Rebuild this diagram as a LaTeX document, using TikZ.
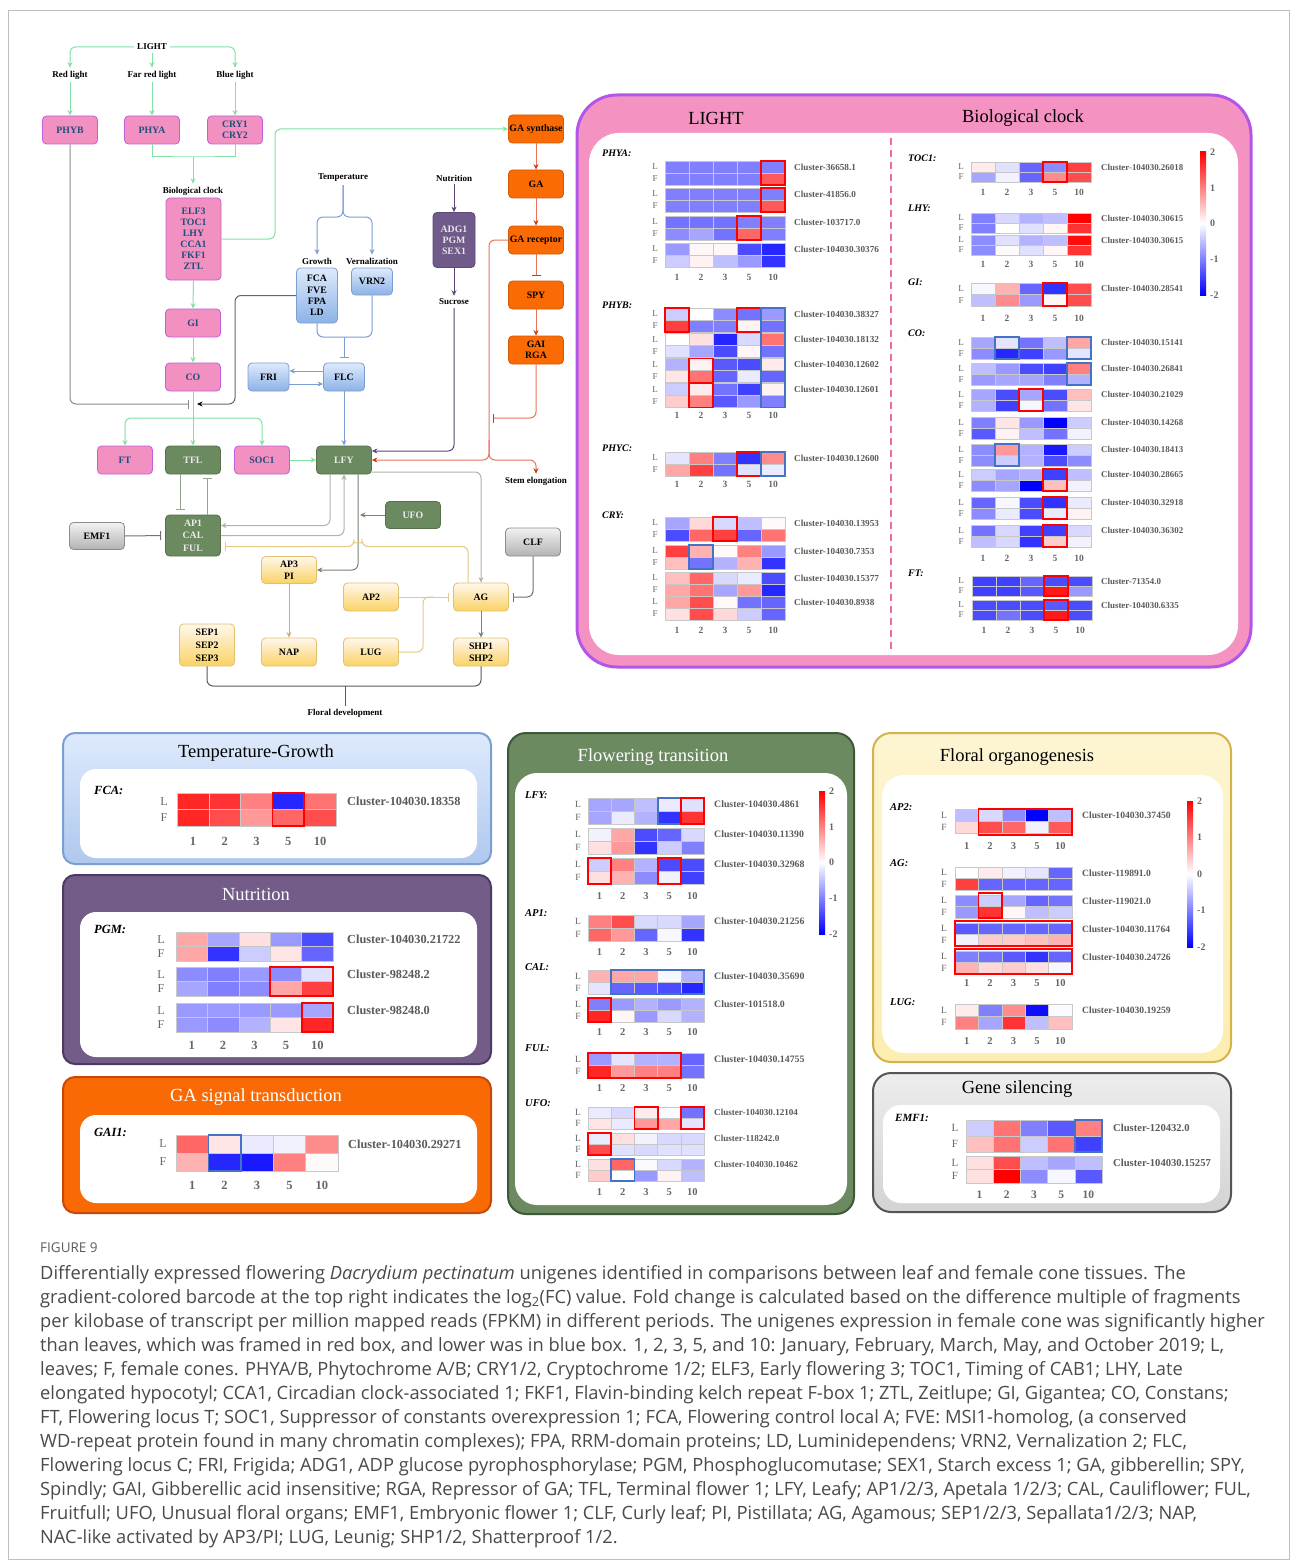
\documentclass[tikz,border=0pt]{standalone}
\usepackage{fontspec}
\setmainfont{Liberation Serif}
\newfontfamily\capf{Open Sans}
\usetikzlibrary{arrows.meta,calc}
\definecolor{pinkf}{HTML}{F291C1}
\definecolor{pinkd}{HTML}{C15FDC}
\definecolor{pinkt}{HTML}{1F4E7A}
\definecolor{dgreen}{HTML}{6B8A5F}
\definecolor{dgreend}{HTML}{56714B}
\definecolor{mint}{HTML}{7FE3A2}
\definecolor{bluel}{HTML}{7C9FD3}
\definecolor{purp}{HTML}{6F5A89}
\definecolor{purpl}{HTML}{5B4878}
\definecolor{orng}{HTML}{FA6A05}
\definecolor{orngl}{HTML}{E9735A}
\definecolor{orngt}{HTML}{C93A10}
\definecolor{yell}{HTML}{E2C16E}
\definecolor{sage}{HTML}{93A58A}
\definecolor{sagel}{HTML}{A9B8A2}
\definecolor{lpink}{HTML}{F493C1}
\definecolor{lviolet}{HTML}{B455EA}
\definecolor{dpink}{HTML}{F06AA8}
\definecolor{tgA}{HTML}{DEEAFC}
\definecolor{tgB}{HTML}{AFC8EF}
\definecolor{tgD}{HTML}{7C9FD1}
\definecolor{nut}{HTML}{735C88}
\definecolor{nutD}{HTML}{4D3A63}
\definecolor{gaF}{HTML}{FA6A04}
\definecolor{gaD}{HTML}{C8480A}
\definecolor{flF}{HTML}{6B8A5F}
\definecolor{flD}{HTML}{40583A}
\definecolor{foA}{HTML}{FDF5D2}
\definecolor{foB}{HTML}{FCEDB0}
\definecolor{foD}{HTML}{D6B24A}
\definecolor{gsA}{HTML}{EDEDED}
\definecolor{gsB}{HTML}{D3D3D3}
\definecolor{gsD}{HTML}{555555}
\definecolor{hmline}{HTML}{C8C8C8}
\definecolor{clgray}{HTML}{5A5A5A}
\definecolor{numgray}{HTML}{666666}
\definecolor{capgray}{HTML}{4A4A4A}
\definecolor{hlred}{HTML}{FF0000}
\definecolor{hlblue}{HTML}{4472C4}
\newcount\nodecnt
\tikzset{
 an/.code={\global\advance\nodecnt by 1\relax\tikzset{name=auto\the\nodecnt}},
 arr/.style={-{Stealth[length=5.5pt,width=5pt]}},
 oarr/.style={-{Stealth[length=5.5pt,width=5pt,color=orngt]}},
 bar/.style={-{Bar[width=9pt,line width=1pt]}},
 lbl/.style={font=\bfseries\fontsize{9}{10}\selectfont, inner sep=3pt},
 box/.style={rounded corners=4pt, minimum width=55pt, minimum height=28pt, inner sep=1pt, align=center, font=\bfseries\fontsize{9.8}{11}\selectfont, line width=0.8pt},
 pinkbox/.style={box, fill=pinkf, draw=pinkd, text=pinkt},
 grnbox/.style={box, fill=dgreen, draw=dgreend, text=white!92!black},
 yelbox/.style={box, top color=yellow!8!white!70!orange!20, bottom color={rgb,255:red,250;green,210;blue,100}, draw=yell},
 blubox/.style={box, minimum width=41pt, top color=tgA, bottom color={rgb,255:red,140;green,178;blue,230}, draw=bluel},
 graybox/.style={box, top color=white!95!black, bottom color=black!30, draw=black!45},
 orbox/.style={box, fill=orng, draw=orng!85!black},
 purbox/.style={box, minimum width=42pt, fill=purp, draw=purpl, text=white!90!black},
 gl/.style={draw=mint, line width=1pt},
 bl/.style={draw=bluel, line width=1pt},
 pl/.style={draw=purpl, line width=1pt},
 ol/.style={draw=orngl, line width=1pt},
 sg/.style={draw=sage, line width=1pt},
 sgl/.style={draw=sagel, line width=1pt},
 sgd/.style={draw=sage!80!black, line width=1pt},
 yl/.style={draw=yell!85!white, line width=1pt},
 yl2/.style={draw=yell!90!black, line width=1pt},
 gyl/.style={draw=black!55, line width=1pt},
 dk/.style={draw=black!65, line width=1pt},
 ttl/.style={font=\fontsize{18.5}{20}\selectfont},
 clab/.style={anchor=west, text=clgray, font=\clfont, inner sep=0pt},
 lf/.style={text=numgray, font=\lffont, inner sep=0pt},
 numl/.style={text=numgray, font=\nmfont, inner sep=0pt},
 glab/.style={anchor=west, font=\gfont, inner sep=0pt},
 cbl/.style={anchor=west, text=numgray, font=\bfseries\fontsize{10}{10}\selectfont, inner sep=0pt},
 redhl/.style={draw=hlred, line width=1.8pt},
 bluehl/.style={draw=hlblue, line width=1.8pt},
 capl/.style={anchor=base west, inner sep=0pt, text=capgray, font=\capf\fontsize{18.3}{20}\selectfont}
}
\newcommand\hcol[1]{\ifnum#1<0 \edef\hc{blue!\number\numexpr0-(#1)\relax!white}\else\edef\hc{red!\number\numexpr#1\relax!white}\fi}
\newcommand\hmrow[2]{\foreach \v [count=\i from 0] in {#2} {\hcol{\v}\path[draw=hmline, line width=0.5pt, fill=\hc] ({\hx+\i*\cw},{#1}) rectangle ++(\cw,\rh);}}
\newcommand\cl[4]{\hmrow{#1}{#2}\hmrow{#1+\rh}{#3}%
 \node[clab, an] at (\lx,{#1+0.5*\rh}) {#4};%
 \node[lf, an] at (\lfx,{#1+0.5*\rh}) {L};%
 \node[lf, an] at (\lfx,{#1+1.5*\rh}) {F};}
\newcommand\nums[1]{\foreach \n [count=\i from 0] in {1,2,3,5,10} {\node[numl, an] at ({\hx+(\i+0.5)*\cw},#1) {\n};}}
\newcommand\hlbx[5]{\draw[#1hl] ({\hx+(#2-1)*\cw},#4) rectangle ({\hx+#3*\cw},#5);}
\newcommand\cbar[4]{% x, ytop, ybot, unused
 \shade[top color=red, bottom color=white] (#1,#2) rectangle ({#1+6},{(#2+#3)/2});
 \shade[top color=white, bottom color=blue] (#1,{(#2+#3)/2}) rectangle ({#1+6},#3);
 \foreach \t [count=\k from 0] in {2,1,0,-1,-2} {\node[cbl, an] at ({#1+10},{#2+\k*(#3-#2)/4}) {\t};}}
\begin{document}
\begin{tikzpicture}[x=1pt,y=-1pt]
\useasboundingbox (0,0) rectangle (1293,1565);
\fill[white] (0,0) rectangle (1293,1565);
\draw[black!25, line width=0.8pt] (8,10) rectangle (1289,1559);

% ---------------- pathway text labels
\node[lbl] (light) at (152,47) {LIGHT};
\node[lbl] (redl) at (70,75) {Red light};
\node[lbl] (farl) at (152,75) {Far red light};
\node[lbl] (bluel) at (235,75) {Blue light};
\node[lbl] (bclab) at (193,191) {Biological clock};
\node[lbl] (temp) at (343,178) {Temperature};
\node[lbl] (growth) at (317,261) {Growth};
\node[lbl] (vern) at (372,261) {Vernalization};
\node[lbl] (nutr) at (454,178) {Nutrition};
\node[lbl] (sucr) at (454,302) {Sucrose};
\node[lbl] (stem) at (536,481) {Stem elongation};
\node[lbl] (floral) at (345,713) {Floral development};

% ---------------- pathway boxes
\node[pinkbox] (phyb) at (70,130) {PHYB};
\node[pinkbox] (phya) at (152,130) {PHYA};
\node[pinkbox, font=\bfseries\fontsize{9.8}{10.5}\selectfont] (cry) at (235,130) {CRY1\\CRY2};
\node[pinkbox, minimum height=82pt] (bclock) at (193.5,239) {ELF3\\TOC1\\LHY\\CCA1\\FKF1\\ZTL};
\node[pinkbox] (gi) at (193,323) {GI};
\node[pinkbox] (co) at (193,377) {CO};
\node[pinkbox] (ft) at (125,460) {FT};
\node[grnbox] (tfl) at (193,460) {TFL};
\node[pinkbox] (soc1) at (262,460) {SOC1};
\node[grnbox] (lfy) at (344,460) {LFY};
\node[grnbox, minimum height=41pt, font=\bfseries\fontsize{9.8}{12.5}\selectfont] (ap1) at (193,535.5) {AP1\\CAL\\FUL};
\node[graybox, minimum height=27pt] (emf1) at (97,536) {EMF1};
\node[grnbox, minimum height=27pt] (ufo) at (413,515) {UFO};
\node[graybox] (clf) at (533,542) {CLF};
\node[yelbox, minimum height=27pt, font=\bfseries\fontsize{9.8}{12}\selectfont] (ap3) at (289,570) {AP3\\PI};
\node[yelbox] (ag) at (481,597) {AG};
\node[yelbox] (ap2) at (371,597) {AP2};
\node[yelbox] (lug) at (371,652) {LUG};
\node[yelbox, font=\bfseries\fontsize{9.8}{12}\selectfont] (shp) at (481,652) {SHP1\\SHP2};
\node[yelbox] (nap) at (289,652) {NAP};
\node[yelbox, minimum height=42pt, font=\bfseries\fontsize{9.8}{13}\selectfont] (sep) at (207,645) {SEP1\\SEP2\\SEP3};
\node[blubox, minimum height=55pt, font=\bfseries\fontsize{9.8}{11.3}\selectfont] (fca) at (317,295.5) {FCA\\FVE\\FPA\\LD};
\node[blubox, minimum height=27pt] (vrn2) at (372,281.5) {VRN2};
\node[blubox] (flc) at (344,377) {FLC};
\node[blubox] (fri) at (268.5,377) {FRI};
\node[purbox, minimum height=55pt, font=\bfseries\fontsize{9.8}{11}\selectfont] (adg) at (454,240) {ADG1\\PGM\\SEX1};
\node[orbox] (gasyn) at (536,129) {GA synthase};
\node[orbox] (ga) at (536,184) {GA};
\node[orbox] (garec) at (536,240) {GA receptor};
\node[orbox] (spy) at (536,295) {SPY};
\node[orbox, font=\bfseries\fontsize{9.8}{11}\selectfont] (gai) at (536,350) {GAI\\RGA};

% ---------------- pathway connectors
\draw[gl, arr, rounded corners=5pt] (light.west) -| (redl.north);
\draw[gl, arr, rounded corners=5pt] (light.east) -| (bluel.north);
\draw[gl, arr] (light.south) -- (farl.north);
\draw[gl, arr] (redl.south) -- (phyb.north);
\draw[gl, arr] (farl.south) -- (phya.north);
\draw[gl, arr] (bluel.south) -- (cry.north);
\coordinate (j1) at (193,157);
\draw[gl] (phya.south) |- (j1) -| (cry.south);
\draw[gl, arr] (j1) -- (bclab.north);
\coordinate (gturn) at (275,129);
\draw[gl, arr, rounded corners=6pt] (bclock.east) -| (gturn) -- (gasyn.west);
\draw[gl, arr] (bclock.south) -- (gi.north);
\draw[gl, arr] (gi.south) -- (co.north);
\coordinate (split) at (193,418);
\draw[gl] (co.south) -- (split);
\draw[gl, arr, rounded corners=6pt] (split) -| (ft.north);
\draw[gl, arr, rounded corners=6pt] (split) -| (soc1.north);
\draw[gl, arr] (split) -- (tfl.north);
\draw[gl, arr] (soc1.east) -- (lfy.west);
\coordinate (jl) at (189,404);
\coordinate (jr) at (197,404);
\coordinate (fturn) at (235,404);
\draw[draw=black!45, line width=1pt, -{Bar[width=9pt]}, rounded corners=6pt] (phyb.south) |- (jl);
\draw[draw=black!60, line width=1pt, -{Stealth[length=5.5pt,width=5pt,color=black]}, rounded corners=6pt] (fca.west) -| (fturn) -- (jr);
% temperature
\coordinate (tb) at (343,217);
\draw[bl, arr, rounded corners=6pt] (temp.south) -- (tb) -| (growth.north);
\draw[bl, arr, rounded corners=6pt] (temp.south) -- (tb) -| (vern.north);
\coordinate (fj) at (344,337);
\draw[bl, rounded corners=6pt] (fca.south) |- (fj) -| (vrn2.south);
\draw[bl, bar, shorten >=5pt] (fj) -- (flc.north);
\draw[bl, arr] ([yshift=6pt]flc.west) -- ([yshift=6pt]fri.east);
\draw[bl, arr] ([yshift=-7pt]fri.east) -- ([yshift=-7pt]flc.west);
\draw[bl, arr] (flc.south) -- (lfy.north);
% nutrition
\draw[pl, arr] (nutr.south) -- (adg.north);
\draw[pl, arr] (adg.south) -- (sucr.north);
\draw[pl, arr, rounded corners=6pt] (sucr.south) |- ([yshift=9pt]lfy.east);
% GA
\draw[ol, oarr] (gasyn.south) -- (ga.north);
\draw[ol, oarr] (ga.south) -- (garec.north);
\draw[ol, -{Bar[width=9pt,color=orngt]}, shorten >=5pt] (garec.south) -- (spy.north);
\draw[ol, oarr] (spy.south) -- (gai.north);
\coordinate (gv) at (489,440);
\coordinate (stemc) at (536,460);
\coordinate (gt) at (493,418);
\draw[ol, rounded corners=6pt] (garec.west) -| (gv);
\draw[ol, oarr, rounded corners=6pt] (gv) |- (lfy.east);
\draw[ol, oarr, rounded corners=6pt] (gv) |- (stemc) -- (stem.north);
\draw[ol, -{Bar[width=9pt,color=orngt]}, rounded corners=6pt] (gai.south) |- (gt);
% flowering
\draw[sg, bar, shorten >=5pt] ([xshift=-13pt]tfl.south) -- ([xshift=-13pt]ap1.north);
\draw[sg, bar, shorten >=4pt] ([xshift=14pt]ap1.north) -- ([xshift=14pt]tfl.south);
\draw[gyl, bar, shorten >=4pt] (emf1.east) -- (ap1.west);
\draw[sgl, arr, rounded corners=6pt] ([xshift=-14pt]lfy.south) |- ([yshift=10pt]ap1.east);
\draw[sgl, arr, rounded corners=6pt] (ap1.east) -| (lfy.south);
\draw[sgd, arr, rounded corners=6pt] ([xshift=14pt]lfy.south) |- (ap3.east);
\coordinate (ufoend) at (360,515);
\draw[sgd, arr] (ufo.west) -- (ufoend);
\draw[sgl, arr, rounded corners=6pt] ([yshift=-12pt]lfy.east) -| (ag.north);
\coordinate (hopr) at (362,546.5);
\draw[yl, bar, shorten >=4pt, rounded corners=6pt] ([xshift=-13pt]ag.north) |- (hopr) arc[start angle=0, end angle=180, radius=4pt] -- ([yshift=-11pt]ap1.east);
\draw[gyl, bar, rounded corners=6pt, shorten >=4pt] (clf.south) |- (ag.east);
\draw[yl, bar, shorten >=4pt] (ap2.east) -- (ag.west);
\coordinate (lugt) at (423,597);
\coordinate (lugj) at (434,597);
\draw[yl, rounded corners=6pt] (lug.east) -| (lugt) -- (lugj);
\draw[yl2, arr] (ap3.south) -- (nap.north);
\draw[sgd, arr] (ag.south) -- (shp.north);
\coordinate (fb) at (345,686);
\draw[dk, rounded corners=6pt] (sep.south) |- (fb) -| (shp.south);
\draw[dk] (fb) -- (floral.north);

% ---------------- LIGHT / Biological clock panel
\draw[fill=lpink, draw=lviolet, line width=3pt, rounded corners=40pt] (577,95) rectangle (1251,667);
\fill[white, rounded corners=30pt] (589,133) rectangle (1238,655);
\draw[dpink, dash pattern=on 7pt off 5pt, line width=1.5pt] (891,138) -- (891,650);
\node[ttl] (tlight) at (716,118) {LIGHT};
\node[ttl] (tbc) at (1023,118) {Biological clock};

\def\gfont{\bfseries\itshape\fontsize{10}{11}\selectfont}
\def\clfont{\bfseries\fontsize{9.2}{10}\selectfont}
\def\lffont{\fontsize{9}{9}\selectfont}
\def\nmfont{\bfseries\fontsize{9.5}{10}\selectfont}
\def\hx{665}\def\cw{24}\def\rh{12}\def\lx{794}\def\lfx{655}
\node[glab] (gphya) at (602,153) {PHYA:};
\cl{161}{-50,-50,-50,-50,-50}{-50,-50,-50,-50,65}{Cluster-36658.1}
\hlbx{red}{5}{5}{161}{185}
\cl{188}{-50,-50,-50,-50,-50}{-50,-50,-50,-50,65}{Cluster-41856.0}
\hlbx{red}{5}{5}{188}{212}
\cl{216}{-55,-55,-55,-50,-50}{-45,-35,-55,60,-50}{Cluster-103717.0}
\hlbx{red}{4}{4}{216}{240}
\cl{243}{-40,3,3,-70,-85}{-20,5,-25,-40,-80}{Cluster-104030.30376}
\nums{277}
\node[glab] (gphyb) at (602,305) {PHYB:};
\cl{308}{-20,0,-45,-55,-40}{75,-50,-50,5,-55}{Cluster-104030.38327}
\hlbx{red}{1}{1}{308}{332}\hlbx{red}{4}{4}{308}{332}
\cl{333.5}{0,12,-85,-15,55}{-12,-35,-70,3,-55}{Cluster-104030.18132}
\cl{358.5}{-30,5,-65,-70,8}{10,55,-60,-8,-60}{Cluster-104030.12602}
\hlbx{red}{2}{2}{358.5}{382.5}
\cl{383.5}{-20,8,-55,-75,5}{20,50,-65,-40,-50}{Cluster-104030.12601}
\hlbx{red}{2}{2}{383.5}{407.5}
\hlbx{blue}{5}{5}{308}{407.5}
\nums{415}
\node[glab] (gphyc) at (602,448) {PHYC:};
\cl{452}{-10,50,-50,-80,45}{35,75,-55,-12,-8}{Cluster-104030.12600}
\hlbx{red}{4}{4}{452}{476}\hlbx{blue}{5}{5}{452}{476}
\nums{484}
\node[glab] (gcry) at (602,515) {CRY:};
\cl{517}{-35,15,-15,-25,2}{-70,60,75,-60,55}{Cluster-104030.13953}
\hlbx{red}{3}{3}{517}{541}
\cl{545}{75,30,2,50,-40}{25,-55,-30,30,-80}{Cluster-104030.7353}
\hlbx{blue}{2}{2}{545}{569}
\cl{572}{25,60,-15,-8,-70}{35,55,-35,40,-85}{Cluster-104030.15377}
\cl{596}{35,70,2,-55,-60}{12,70,15,-20,-60}{Cluster-104030.8938}
\nums{630}

% biological clock side
\def\clfont{\bfseries\fontsize{8.9}{10}\selectfont}
\def\hx{971}\def\cw{24}\def\rh{10}\def\lx{1101}\def\lfx{961}
\node[glab] (gtoc) at (908,158) {TOC1:};
\cl{162}{8,-12,-60,-45,75}{-35,-5,-60,45,70}{Cluster-104030.26018}
\hlbx{red}{4}{4}{162}{182}
\nums{192}
\node[glab] (glhy) at (908,208) {LHY:};
\cl{213}{-50,-15,-30,-25,100}{-50,0,-12,3,80}{Cluster-104030.30615}
\cl{235}{-45,-12,-30,-25,95}{-45,2,-12,3,80}{Cluster-104030.30615}
\nums{264}
\def\rh{11.5}
\node[glab] (ggi) at (908,282) {GI:};
\cl{283}{-3,30,-60,-80,70}{-25,45,-40,3,70}{Cluster-104030.28541}
\hlbx{red}{4}{4}{283}{306}
\nums{318}
\def\rh{11}
\node[glab] (gco) at (908,333) {CO:};
\cl{337}{-35,-10,-55,-25,35}{-45,-85,-75,-40,-10}{Cluster-104030.15141}
\hlbx{blue}{2}{2}{337}{359}\hlbx{blue}{5}{5}{337}{359}
\cl{363}{-25,-40,-70,-75,50}{-40,-35,-35,-50,-30}{Cluster-104030.26841}
\hlbx{blue}{5}{5}{363}{385}
\cl{389}{-35,-70,-35,-70,25}{-30,-75,-3,-55,10}{Cluster-104030.21029}
\hlbx{red}{3}{3}{389}{411}
\cl{417}{-50,10,-40,-100,-20}{-65,5,-25,-55,-5}{Cluster-104030.14268}
\cl{444}{-45,40,-30,-90,-20}{-45,-20,-30,-70,-45}{Cluster-104030.18413}
\hlbx{blue}{2}{2}{444}{466}
\cl{469}{-20,-35,-30,-75,-25}{-45,-35,-100,25,-5}{Cluster-104030.28665}
\hlbx{red}{4}{4}{469}{491}
\cl{497}{-60,-3,-70,-80,-8}{-45,-8,-70,-8,5}{Cluster-104030.32918}
\hlbx{red}{4}{4}{497}{519}
\cl{525}{-55,-15,-75,-75,-15}{-25,-15,-80,20,-5}{Cluster-104030.36302}
\hlbx{red}{4}{4}{525}{547}
\nums{558}
\def\hx{972}\def\rh{10}
\node[glab] (gft) at (908,573) {FT:};
\cl{576}{-75,-75,-60,-70,-70}{-75,-75,-65,90,-40}{Cluster-71354.0}
\hlbx{red}{4}{4}{576}{596}
\cl{600}{-70,-70,-70,-65,-70}{-70,-55,-70,90,-70}{Cluster-104030.6335}
\hlbx{red}{4}{4}{600}{620}
\nums{630}
\cbar{1200}{152}{295}{}

% ---------------- Temperature-Growth
\draw[top color=tgA, bottom color=tgB, draw=tgD, line width=2pt, rounded corners=12pt] (63,733) rectangle (491,864);
\fill[white, rounded corners=16pt] (80,769) rectangle (477,858);
\node[ttl] (ttg) at (256,753) {Temperature-Growth};
\def\gfont{\bfseries\itshape\fontsize{12.5}{13}\selectfont}
\def\clfont{\bfseries\fontsize{12.3}{13}\selectfont}
\def\lffont{\fontsize{12}{12}\selectfont}
\def\nmfont{\bfseries\fontsize{12.5}{13}\selectfont}
\def\hx{177}\def\cw{31.8}\def\rh{16.5}\def\lx{347}\def\lfx{164}
\node[glab] (gfca) at (94,790) {FCA:};
\cl{793}{85,80,50,-85,55}{85,70,40,60,70}{Cluster-104030.18358}
\hlbx{red}{4}{4}{793}{826}
\nums{841}

% ---------------- Nutrition
\draw[fill=nut, draw=nutD, line width=2pt, rounded corners=12pt] (63,875) rectangle (491,1064);
\fill[white, rounded corners=16pt] (80,912) rectangle (477,1057);
\node[ttl, text=white] (tnut) at (256,894) {Nutrition};
\def\hx{176}\def\cw{31.4}\def\rh{14.5}\def\lx{347}\def\lfx{161}
\node[glab] (gpgm) at (94,929) {PGM:};
\cl{932}{35,-35,12,-40,-70}{35,-80,-20,10,-60}{Cluster-104030.21722}
\cl{967}{-45,-50,-40,-45,-12}{-35,-50,-45,35,75}{Cluster-98248.2}
\hlbx{red}{4}{5}{967}{996}
\cl{1003}{-40,-40,-40,-40,-35}{-40,-45,-30,10,85}{Cluster-98248.0}
\hlbx{red}{5}{5}{1003}{1032}
\nums{1045}

% ---------------- GA signal transduction
\draw[fill=gaF, draw=gaD, line width=2pt, rounded corners=12pt] (63,1077) rectangle (491,1213);
\fill[white, rounded corners=16pt] (80,1115) rectangle (477,1203);
\node[ttl, text=white] (tga) at (256,1097) {GA signal transduction};
\def\hx{176}\def\cw{32.4}\def\rh{18}\def\lx{348}\def\lfx{163}
\node[glab] (ggai) at (94,1132) {GAI1:};
\cl{1135}{60,10,-8,-5,45}{30,-85,-90,50,2}{Cluster-104030.29271}
\hlbx{blue}{2}{2}{1135}{1171}
\nums{1185}

% ---------------- Flowering transition
\draw[fill=flF, draw=flD, line width=2pt, rounded corners=18pt] (508,733) rectangle (854,1214);
\fill[white, rounded corners=22pt] (515,773) rectangle (847,1205);
\node[ttl, text=white] (tfl2) at (653,757) {Flowering transition};
\def\gfont{\bfseries\itshape\fontsize{10.5}{11}\selectfont}
\def\clfont{\bfseries\fontsize{9.8}{10}\selectfont}
\def\lffont{\fontsize{9.5}{10}\selectfont}
\def\nmfont{\bfseries\fontsize{10.5}{11}\selectfont}
\def\hx{588}\def\cw{23.2}\def\rh{13}\def\lx{714}\def\lfx{578}
\node[glab] (glfy) at (525,795) {LFY:};
\cl{798}{-35,-35,-25,-8,-12}{-35,-8,-30,-80,80}{Cluster-104030.4861}
\hlbx{blue}{4}{4}{798}{824}\hlbx{red}{5}{5}{798}{824}
\cl{828}{-5,35,-70,-60,-15}{12,40,-80,-20,-50}{Cluster-104030.11390}
\cl{858}{-20,50,-30,-70,-70}{12,30,-45,-5,-75}{Cluster-104030.32968}
\hlbx{red}{1}{1}{858}{884}\hlbx{red}{4}{4}{858}{884}
\nums{896}
\node[glab] (gap1) at (525,913) {AP1:};
\cl{915}{50,70,-15,-15,-35}{60,40,-60,-3,-80}{Cluster-104030.21256}
\nums{952}
\def\rh{12}
\node[glab] (gcal) at (525,967) {CAL:};
\cl{970}{30,35,35,-3,-30}{-10,-60,-65,-70,-85}{Cluster-104030.35690}
\hlbx{blue}{2}{5}{970}{994}
\cl{998}{-50,-40,-30,-40,-30}{85,3,-40,-15,-30}{Cluster-101518.0}
\hlbx{red}{1}{1}{998}{1022}
\nums{1032}
\def\rh{12.5}
\node[glab] (gful) at (525,1048) {FUL:};
\cl{1053}{-40,-10,-30,-30,-60}{85,40,50,50,-55}{Cluster-104030.14755}
\hlbx{red}{1}{4}{1053}{1078}
\nums{1088}
\def\rh{11}
\def\clfont{\bfseries\fontsize{9.1}{10}\selectfont}
\node[glab] (gufo) at (525,1103) {UFO:};
\cl{1107}{-8,-15,8,-2,-55}{10,-8,40,35,-10}{Cluster-104030.12104}
\hlbx{red}{3}{3}{1107}{1129}\hlbx{red}{5}{5}{1107}{1129}
\cl{1133}{-8,12,-5,-15,-15}{70,-12,-15,-12,-12}{Cluster-118242.0}
\hlbx{red}{1}{1}{1133}{1155}
\cl{1159}{12,60,-2,-15,-30}{20,0,-40,5,-25}{Cluster-104030.10462}
\hlbx{blue}{2}{2}{1159}{1181}
\nums{1192}
\cbar{819}{791}{934}{}

% ---------------- Floral organogenesis
\draw[top color=foA, bottom color=foB, draw=foD, line width=2pt, rounded corners=18pt] (873,733) rectangle (1231,1062);
\fill[white, rounded corners=22pt] (882,775) rectangle (1223,1053);
\node[ttl] (tfo) at (1017,757) {Floral organogenesis};
\def\clfont{\bfseries\fontsize{9.6}{10}\selectfont}
\def\hx{955}\def\cw{23.4}\def\rh{12}\def\lx{1082}\def\lfx{944}
\node[glab] (gap2) at (890,807) {AP2:};
\cl{809}{-25,-15,-45,-100,-25}{15,70,60,-5,65}{Cluster-104030.37450}
\hlbx{red}{2}{5}{809}{835}
\nums{846}
\def\rh{11.5}
\node[glab] (gag) at (890,863) {AG:};
\cl{867}{0,8,-5,-10,-60}{75,-60,-60,-60,-60}{Cluster-119891.0}
\cl{895}{-45,-20,-35,-60,-55}{-40,80,3,-25,-20}{Cluster-119021.0}
\hlbx{red}{2}{2}{893}{918}
\cl{923}{-65,-60,-60,-60,-60}{-5,20,20,25,30}{Cluster-104030.11764}
\hlbx{red}{1}{5}{921}{946}
\cl{951}{-50,-55,-65,-80,-60}{30,15,20,12,-3}{Cluster-104030.24726}
\hlbx{red}{1}{5}{949}{974}
\nums{983}
\def\rh{12.5}
\node[glab] (glug) at (890,1002) {LUG:};
\cl{1004}{8,-50,45,-95,-2}{50,-35,80,-25,25}{Cluster-104030.19259}
\nums{1041}
\cbar{1187}{801}{947}{}

% ---------------- Gene silencing
\draw[top color=gsA, bottom color=gsB, draw=gsD, line width=2pt, rounded corners=18pt] (873,1073) rectangle (1231,1212);
\fill[white, rounded corners=18pt] (883,1105) rectangle (1220,1203);
\node[ttl] (tgs) at (1017,1089) {Gene silencing};
\def\gfont{\bfseries\itshape\fontsize{11}{12}\selectfont}
\def\clfont{\bfseries\fontsize{10.6}{11}\selectfont}
\def\lffont{\fontsize{11}{11}\selectfont}
\def\nmfont{\bfseries\fontsize{11.5}{12}\selectfont}
\def\hx{966}\def\cw{27.2}\def\rh{16}\def\lx{1113}\def\lfx{955}
\node[glab] (gemf) at (895,1118) {EMF1:};
\cl{1120}{-20,55,-50,-65,50}{25,55,-20,55,-75}{Cluster-120432.0}
\hlbx{blue}{5}{5}{1120}{1152}
\def\rh{13.5}
\cl{1156}{12,70,-25,-35,-25}{12,100,-45,-3,-65}{Cluster-104030.15257}
\nums{1195}

% ---------------- caption
\node[anchor=base west, inner sep=0pt, text=capgray!90, font=\capf\fontsize{13.5}{14}\selectfont] (fig) at (40,1252) {FIGURE 9};
\node[capl] (c1) at (40,1279) {Differentially expressed flowering \textit{Dacrydium pectinatum} unigenes identified in comparisons between leaf and female cone tissues. The};
\node[capl] (c2) at (40,1303) {gradient-colored barcode at the top right indicates the log\textsubscript{2}(FC) value. Fold change is calculated based on the difference multiple of fragments};
\node[capl] (c3) at (40,1327) {per kilobase of transcript per million mapped reads (FPKM) in different periods. The unigenes expression in female cone was significantly higher};
\node[capl] (c4) at (40,1351) {than leaves, which was framed in red box, and lower was in blue box. 1, 2, 3, 5, and 10: January, February, March, May, and October 2019; L,};
\node[capl] (c5) at (40,1375) {leaves; F, female cones. PHYA/B, Phytochrome A/B; CRY1/2, Cryptochrome 1/2; ELF3, Early flowering 3; TOC1, Timing of CAB1; LHY, Late};
\node[capl] (c6) at (40,1399) {elongated hypocotyl; CCA1, Circadian clock-associated 1; FKF1, Flavin-binding kelch repeat F-box 1; ZTL, Zeitlupe; GI, Gigantea; CO, Constans;};
\node[capl] (c7) at (40,1423) {FT, Flowering locus T; SOC1, Suppressor of constants overexpression 1; FCA, Flowering control local A; FVE: MSI1-homolog, (a conserved};
\node[capl] (c8) at (40,1447) {WD-repeat protein found in many chromatin complexes); FPA, RRM-domain proteins; LD, Luminidependens; VRN2, Vernalization 2; FLC,};
\node[capl] (c9) at (40,1471) {Flowering locus C; FRI, Frigida; ADG1, ADP glucose pyrophosphorylase; PGM, Phosphoglucomutase; SEX1, Starch excess 1; GA, gibberellin; SPY,};
\node[capl] (c10) at (40,1495) {Spindly; GAI, Gibberellic acid insensitive; RGA, Repressor of GA; TFL, Terminal flower 1; LFY, Leafy; AP1/2/3, Apetala 1/2/3; CAL, Cauliflower; FUL,};
\node[capl] (c11) at (40,1519) {Fruitfull; UFO, Unusual floral organs; EMF1, Embryonic flower 1; CLF, Curly leaf; PI, Pistillata; AG, Agamous; SEP1/2/3, Sepallata1/2/3; NAP,};
\node[capl] (c12) at (40,1543) {NAC-like activated by AP3/PI; LUG, Leunig; SHP1/2, Shatterproof 1/2.};
\end{tikzpicture}
\end{document}
